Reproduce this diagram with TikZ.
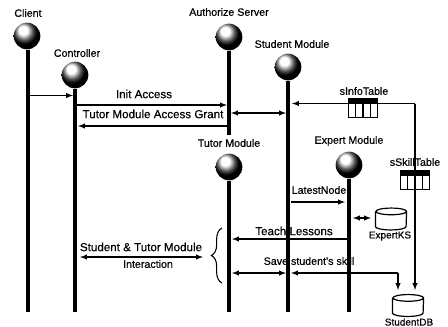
\documentclass[tikz,border=0pt]{standalone}
\usepackage{fontspec}
\setmainfont[RawFeature={embolden=0.35}]{Liberation Sans}
\usepackage{xcolor}
\usetikzlibrary{calc,decorations.pathreplacing}
\pgfdeclareradialshading{sphereshade}{\pgfpoint{-8bp}{12bp}}{color(0bp)=(white); color(8bp)=(white); color(17bp)=(black!70); color(23bp)=(black); color(70bp)=(black)}
\tikzset{
  ball/.style={circle,inner sep=0pt,minimum size=20pt,shading=sphereshade},
  life/.style={line width=2.7pt},
  msg/.style={line width=0.8pt,-latex},
  twoway/.style={line width=0.8pt,latex-latex},
  lbl/.style={font=\fontsize{8}{9}\selectfont,inner sep=0pt},
  wide/.style={font=\fontsize{8.7}{10}\selectfont,inner sep=0pt},
  tablebox/.style={draw,line width=1pt,fill=white,minimum width=22pt,minimum height=14pt,inner sep=0pt},
  dbase/.style={minimum width=23pt,minimum height=11pt,inner sep=0pt},
}
\newcommand{\tablecells}[1]{%
  \fill (#1.north west) rectangle ($(#1.north east)!0.28!(#1.south east)$);
  \draw[line width=1pt] ($(#1.north west)!0.25!(#1.north east)$) -- ($(#1.south west)!0.25!(#1.south east)$);
  \draw[line width=1pt] ($(#1.north west)!0.5!(#1.north east)$) -- ($(#1.south west)!0.5!(#1.south east)$);
  \draw[line width=1pt] ($(#1.north west)!0.75!(#1.north east)$) -- ($(#1.south west)!0.75!(#1.south east)$);
}
\newcommand{\dbdrum}[1]{%
  \draw[line width=0.9pt] (#1.north west) -- (#1.south west) arc[start angle=180,end angle=360,x radius=11.5pt,y radius=2.5pt] -- (#1.north east) arc[start angle=0,end angle=360,x radius=11.5pt,y radius=2.5pt];
}
\begin{document}
\begin{tikzpicture}[x=0.75pt,y=-0.75pt]
\useasboundingbox (0,0) rectangle (448,326);
% the lifelines
\node[ball] (client) at (27,36) {};
\node[ball] (control) at (75,75) {};
\node[ball] (auth) at (229,37) {};
\node[ball] (student) at (288,67) {};
\node[ball] (tutor) at (229,167) {};
\node[ball] (expert) at (349,165) {};
\coordinate (clientEnd) at (28,312);
\coordinate (controlEnd) at (75,312);
\coordinate (authEnd) at (229,135);
\coordinate (studentEnd) at (288,312);
\coordinate (tutorEnd) at (229,312);
\coordinate (expertEnd) at (349,312);
\draw[life] (client.south -| clientEnd) -- (clientEnd);
\draw[life,line width=3.2pt] (control.south) -- (controlEnd);
\draw[life] (auth.south) -- (authEnd);
\draw[life,line width=3.2pt] (student.south) -- (studentEnd);
\draw[life] (tutor.south) -- (tutorEnd);
\draw[life,line width=3.2pt] (expert.south) -- (expertEnd);
\node[lbl] (clientLbl) at (28,13) {Client};
\node[lbl] (controlLbl) at (77,53) {Controller};
\node[lbl] (authLbl) at (229,12) {Authorize Server};
\node[lbl] (studentLbl) at (292,44) {Student Module};
\node[lbl] (tutorLbl) at (229,143) {Tutor Module};
\node[lbl] (expertLbl) at (349,141) {Expert Module};
% the tables and data stores
\node[tablebox] (infoTable) at (363,108) {};
\tablecells{infoTable}
\node[lbl] (infoLbl) at (364,91) {sInfoTable};
\node[lbl] (skillLbl) at (415,162) {sSkillTable};
\node[dbase] (expertKS) at (391,219) {};
\dbdrum{expertKS}
\node[lbl,font=\fontsize{7.5}{9}\selectfont] (expertKSLbl) at (390,236) {ExpertKS};
\node[dbase] (studentDB) at (408,305.5) {};
\dbdrum{studentDB}
\node[lbl,font=\fontsize{7.5}{9}\selectfont] (studentDBLbl) at (409,322) {StudentDB};
% the messages
\coordinate (c1) at (29,95.5);
\coordinate (c2) at (73,95.5);
\draw[msg] (c1) -- (c2);
\coordinate (c3) at (77,105);
\coordinate (c4) at (227,105);
\draw[msg] (c3) -- (c4);
\node[wide] (initLbl) at (144,94) {Init Access};
\coordinate (c5) at (227,126);
\coordinate (c6) at (78,126);
\draw[msg] (c5) -- (c6);
\node[wide] (grantLbl) at (153,114) {Tutor Module Access Grant};
\coordinate (c7) at (231,113);
\coordinate (c8) at (286,113);
\draw[twoway] (c7) -- (c8);
\coordinate (c9) at (292,103.5);
\draw[msg] (infoTable.west |- c9) -- (c9);
\coordinate (c10) at (378,103.5);
\coordinate (c11) at (415,103.5);
\coordinate (c12) at (415,290);
\draw[line width=0.8pt] (c10) -- (c11);
\draw[msg] (c11) -- (c12);
\node[tablebox] (skillTable) at (415,180) {};
\tablecells{skillTable}
\coordinate (c13) at (291,202);
\coordinate (c14) at (345,202);
\draw[msg] (c13) -- (c14);
\node[lbl] (latestLbl) at (319,190) {LatestNode};
\coordinate (c15) at (353,218);
\coordinate (c16) at (371,218);
\draw[twoway] (c15) -- (c16);
\coordinate (c17) at (349,239);
\coordinate (c18) at (232,239);
\draw[msg] (c17) -- (c18);
\node[wide] (teachLbl) at (294,231) {Teach Lessons};
\coordinate (c19) at (232,273);
\coordinate (c20) at (286,273);
\draw[twoway] (c19) -- (c20);
\coordinate (c21) at (291,273);
\coordinate (c22) at (398,273);
\coordinate (c23) at (398,290);
\draw[line width=0.8pt,latex-] (c21) -- (c22);
\draw[msg] (c22) -- (c23);
\node[lbl] (saveLbl) at (309,261) {Save student's skill};
% the interaction group
\coordinate (b1) at (222,283);
\coordinate (b2) at (222,228);
\draw[line width=0.8pt,decorate,decoration={brace,amplitude=8pt}] (b1) -- (b2);
\coordinate (c24) at (80,257);
\coordinate (c25) at (203,257);
\draw[twoway] (c24) -- (c25);
\node[wide] (groupLbl) at (141,247) {Student \& Tutor Module};
\node[lbl] (interLbl) at (148,264) {Interaction};
\end{tikzpicture}
\end{document}
